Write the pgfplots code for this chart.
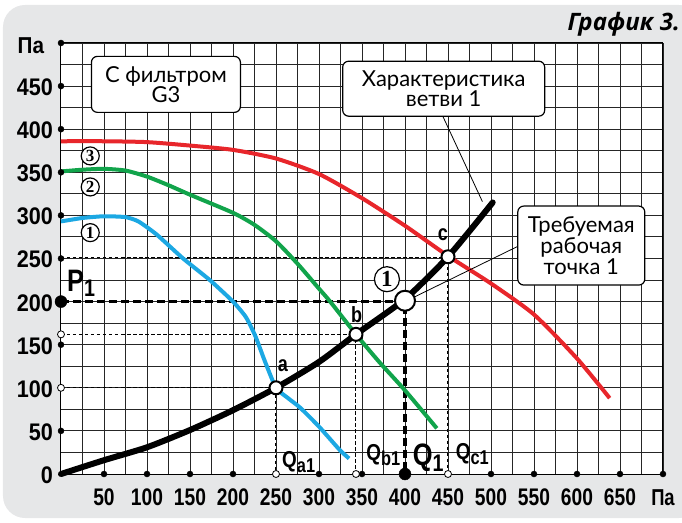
\documentclass[border=0pt]{standalone}
\usepackage{pgfplots}
\pgfplotsset{compat=1.18}
\usepackage{fontspec}
\setmainfont{Liberation Sans}
\newfontfamily\xfont[FakeStretch=0.8]{Liberation Sans}
\newfontfamily\yfont[FakeStretch=0.9]{Liberation Sans}
\newfontfamily\lfont[FakeStretch=0.82]{Liberation Sans}
\newfontfamily\boxfont{Lato}
\newfontfamily\titlefont{Open Sans}
\newfontfamily\cfont{Liberation Serif}
\definecolor{bg}{HTML}{E6E7E8}
\definecolor{cred}{HTML}{E8262B}
\definecolor{cgreen}{HTML}{11A44B}
\definecolor{cblue}{HTML}{1CA8E3}
\tikzset{
  circnum/.style={circle, draw=black, line width=1.2pt, fill=white, inner sep=0pt, minimum size=18pt, font=\cfont\bfseries\fontsize{17}{17}\selectfont},
  infobox/.style={draw=black, line width=1.2pt, rounded corners=6pt, fill=white, align=center, inner sep=0pt, font=\boxfont\fontsize{22}{20}\selectfont},
  lab/.style={anchor=base west, inner sep=0pt},
}
\begin{document}
\begin{tikzpicture}
\useasboundingbox (-61pt,-48pt) rectangle (621pt,474pt);
\fill[bg, rounded corners=22pt] (-58pt,-44pt) rectangle (640pt,469pt);
\begin{axis}[
  at={(0,0)}, anchor=south west,
  scale only axis, width=602pt, height=431pt,
  xmin=0, xmax=700, ymin=0, ymax=500,
  clip=false,
  axis background/.style={fill=white},
  axis line style={black, line width=1pt},
  xtick={50,100,150,200,250,300,350,400,450,500,550,600,650,700},
  xticklabels={50,100,150,200,250,300,350,400,450,500,550,600,650,{}},
  ytick={0,50,100,150,200,250,300,350,400,450,500},
  yticklabels={0,50,100,150,200,250,300,350,400,450,{}},
  minor xtick={25,75,...,675},
  minor ytick={25,75,...,475},
  grid=both,
  major grid style={black!85, line width=0.9pt},
  minor grid style={black!85, line width=0.9pt},
  major tick length=0pt, minor tick length=0pt,
  /pgf/number format/assume math mode=true,
  xticklabel style={font=\xfont\bfseries\fontsize{24}{24}\selectfont, anchor=base, yshift=-31pt, inner sep=0pt},
  yticklabel style={font=\yfont\bfseries\fontsize{24}{24}\selectfont, anchor=base east, xshift=-8pt, yshift=-9.5pt, inner sep=0pt},
]
% dashed guide lines
\addplot[black, line width=1pt, dash pattern=on 3.5pt off 2.5pt] coordinates {(0,100) (250,100) (250,0)};
\addplot[black, line width=1pt, dash pattern=on 3.5pt off 2.5pt] coordinates {(0,162) (343,162) (343,0)};
\addplot[black, line width=1pt, dash pattern=on 3.5pt off 2.5pt] coordinates {(0,251) (450,251) (450,0)};
\addplot[black, line width=3.5pt, dash pattern=on 8pt off 4pt] coordinates {(0,200) (400,200) (400,0)};
% fan curves
\addplot[cred, line width=4pt, smooth, tension=0.4] coordinates {
 (0,386) (50,386) (100,385) (150,381) (200,376) (250,366) (300,348) (350,320) (400,288) (450,253) (500,221) (550,185) (600,134) (638,88)};
\addplot[cgreen, line width=4pt, smooth, tension=0.4] coordinates {
 (0,351) (25,353) (50,354) (75,352) (100,345) (125,335) (150,324) (200,303) (225,289) (250,270) (275,244) (300,215) (313,200) (343,162) (370,130) (400,97) (437,53)};
\addplot[cblue, line width=4pt, smooth, tension=0.35] coordinates {
 (0,293) (25,297) (50,299) (75,298) (90,293) (111,278) (142,250) (173,225) (200,200) (215,182) (226,160) (237,131) (250,100) (264,88) (278,77) (300,55) (324,28) (335,18)};
% system curve
\addplot[black, line width=6pt, line cap=round, smooth, tension=0.4] coordinates {
 (0,0) (50,16) (100,31) (150,51) (200,74) (250,100) (300,130) (343,162) (400,203) (450,252) (502,315)};
% leader lines
\draw[black, line width=0.8pt] (444,415) -- (490,316);
\draw[black, line width=0.8pt] (531,264) -- (400,200);
% axis dots
\addplot[only marks, mark=*, mark size=3pt, black] coordinates {
 (0,50) (0,150) (0,250) (0,300) (0,350) (0,400) (0,450) (0,500)
 (50,0) (100,0) (150,0) (200,0) (300,0) (350,0) (500,0) (550,0) (600,0) (650,0) (700,0)};
\addplot[only marks, mark=*, mark size=3.5pt, mark options={fill=white, draw=black, line width=0.8pt}] coordinates {
 (0,100) (0,162) (250,0) (343,0) (450,0)};
\addplot[only marks, mark=*, mark size=6pt, black] coordinates {(0,200) (400,0)};
% operating points
\addplot[only marks, mark=*, mark size=6.5pt, mark options={fill=white, draw=black, line width=2pt}] coordinates {(250,100) (343,162) (450,252)};
\addplot[only marks, mark=*, mark size=10pt, mark options={fill=white, draw=black, line width=2pt}] coordinates {(400,201)};
% unit labels
\node[anchor=base east, inner sep=0pt, font=\yfont\bfseries\fontsize{23}{23}\selectfont] at (-19.5,488) {Па};
\node[anchor=base, inner sep=0pt, font=\xfont\bfseries\fontsize{23}{23}\selectfont] at (700,-36) {Па};
% labels
\node[lab, font=\lfont\bfseries\fontsize{31}{31}\selectfont] at (7,212) {P\raisebox{-5pt}{\fontsize{24}{24}\selectfont 1}};
\node[lab, font=\lfont\bfseries\fontsize{31}{31}\selectfont] at (409,10) {Q\raisebox{-6pt}{\fontsize{24}{24}\selectfont 1}};
\node[lab, font=\lfont\bfseries\fontsize{23}{23}\selectfont] at (257,7) {Q\raisebox{-5pt}{\fontsize{20}{20}\selectfont a1}};
\node[lab, font=\lfont\bfseries\fontsize{23}{23}\selectfont] at (355,16) {Q\raisebox{-5pt}{\fontsize{20}{20}\selectfont b1}};
\node[lab, font=\lfont\bfseries\fontsize{23}{23}\selectfont] at (459,17) {Q\raisebox{-5pt}{\fontsize{20}{20}\selectfont c1}};
\node[lab, font=\lfont\bfseries\fontsize{22}{22}\selectfont] at (252,119) {a};
\node[lab, font=\lfont\bfseries\fontsize{22}{22}\selectfont] at (337,176) {b};
\node[lab, font=\lfont\bfseries\fontsize{22}{22}\selectfont] at (438,271) {c};
\node[circnum] at (34,369) {3};
\node[circnum] at (34,333) {2};
\node[circnum] at (34,280) {1};
\node[circnum, minimum size=25pt, font=\cfont\bfseries\fontsize{23}{23}\selectfont] at (379,226) {1};
% boxes
\node[infobox, minimum width=149pt, minimum height=56pt] at (122,452) {С фильтром\\G3};
\node[infobox, minimum width=202pt, minimum height=55pt] at (445,447) {Характеристика\\ветви 1};
\node[infobox, minimum width=127pt, minimum height=79pt, font=\boxfont\fontsize{22}{21}\selectfont] at (605,265) {Требуемая\\рабочая\\точка 1};
% title
\node[anchor=base east, inner sep=0pt, font=\titlefont\bfseries\itshape\fontsize{24}{24}\selectfont] at (720,514) {График 3.};
\end{axis}
\end{tikzpicture}
\end{document}
